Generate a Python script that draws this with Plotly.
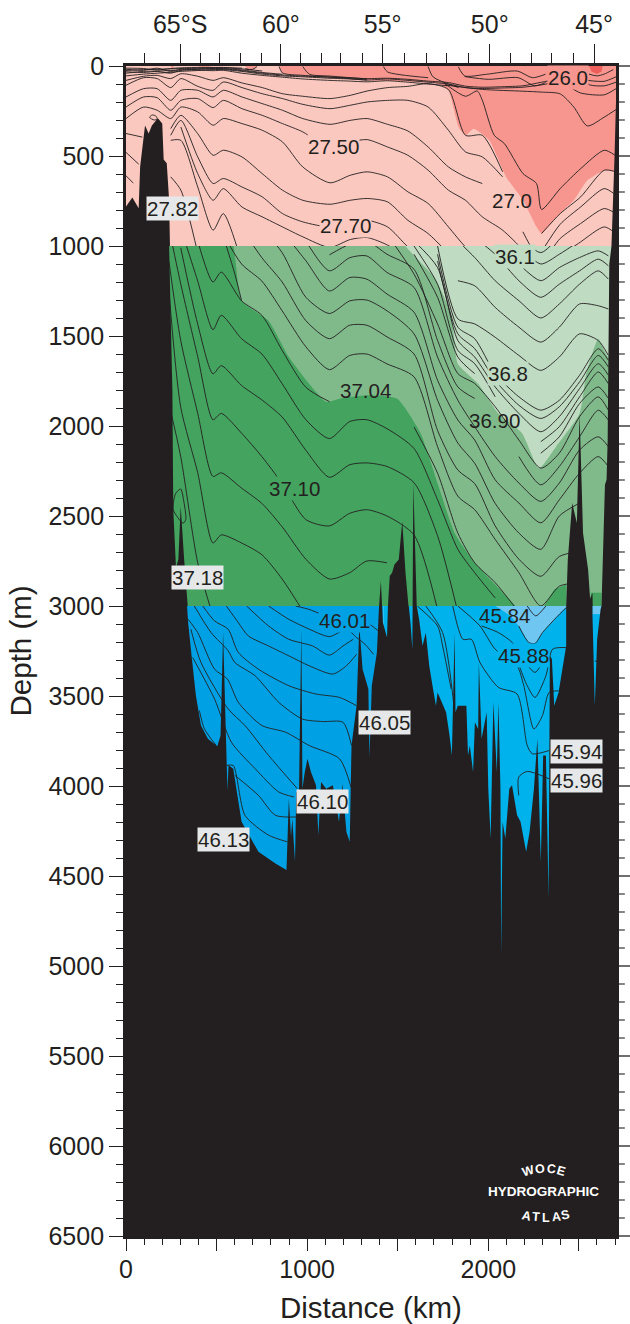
import plotly.graph_objects as go

N = None
INK = "#231f20"
FONT = "Liberation Sans"
CLEAR = "rgba(0,0,0,0)"

# ---------- axis values ----------
x_major = [0, 500, 1000, 1500, 2000, 2500]
x_major_text = ["0", "", "1000", "", "2000", ""]
lat_km = [299, 855, 1417, 2008, 2584]
lat_text = ["65°S", "60°", "55°", "50°", "45°"]
lat_minor_km = [103, 299, 410, 518, 630, 746, 855, 963, 1079, 1186, 1304, 1417, 1539, 1659,
                1771, 1893, 2008, 2122, 2238, 2350, 2468, 2584]
depth_ticks_top = [0, 500, 1000]
depth_ticks_mid = [1500, 2000, 2500]
depth_ticks_low = [3000, 3500, 4000, 4500, 5000, 5500, 6000, 6500]

# ---------- bathymetry (km, m) ----------
bathy_km = [0, 0, 35, 70, 78, 93, 105, 125, 143, 176, 200, 208, 225, 238, 238, 256, 261, 276, 289, 302, 321, 330, 336,
            343, 362, 386, 414, 452, 504, 522, 536, 550, 554, 560, 566, 592, 638, 731, 825, 886, 899, 911, 918, 933, 940,
            955, 968, 974, 987, 1002, 1021, 1049, 1062, 1077, 1105, 1142, 1176, 1194, 1217, 1235, 1245, 1273, 1288, 1306,
            1338, 1344, 1357, 1385, 1396, 1407, 1418, 1441, 1446, 1456, 1469, 1482, 1506, 1525, 1543, 1562, 1571, 1581,
            1586, 1599, 1605, 1618, 1637, 1655, 1674, 1692, 1711, 1720, 1767, 1786, 1799, 1814, 1819, 1832, 1879, 1888,
            1898, 1916, 1926, 1944, 1948, 1963, 1991, 2000, 2013, 2028, 2047, 2056, 2067, 2071, 2079,
            2094, 2116, 2131, 2159, 2178, 2209, 2228, 2252, 2271, 2280, 2290, 2303, 2318, 2333,
            2340, 2351, 2364, 2388, 2430, 2430, 2439, 2463, 2489, 2504, 2523, 2551,
            2562, 2575, 2575, 2588, 2601, 2620, 2625, 2644, 2653, 2659, 2663, 2668, 2680, 2697, 2705, 2705]
bathy_m = [6500, 780, 730, 790, 560, 430, 330, 375, 330, 290, 320, 520, 540, 745, 1000, 1800, 2465, 2788, 2742, 2447, 2742, 2889, 3000,
           3092, 3277, 3498, 3664, 3738, 3779, 3720, 3148, 3720, 3876, 4024, 3885, 3904, 4199, 4365, 4430, 4467, 4070, 4282, 4181, 4421, 4033,
           4033, 3129, 4015, 3922, 3849, 3922, 3996, 4273, 3978, 4015, 3996, 4199, 3987, 4255, 4310, 3775, 3554, 3111, 3351,
           3461, 3839, 3443, 3258, 3018, 2861, 3092, 3175, 3000, 2834, 2815, 2769, 2742, 2530, 2815, 3000, 3100, 3240,
           2317, 2815, 3000, 3074, 3221, 3148, 3332, 3443, 3554, 3480, 3590, 3720, 3830, 3148, 3590, 3554, 3554, 3830,
           3775, 3922, 3646, 3683, 3314, 3738, 3590, 4015, 4292, 3535, 3922, 3535, 4015, 4937, 4199,
           4291, 4015, 3996, 4163, 4199, 4365, 4255, 4015, 3738, 4052, 4421, 3830, 3830, 4624,
           3277, 3295, 3554, 3480, 3221, 3000, 2742, 2428, 2539, 1931, 2594, 2797,
           2960, 2926, 3046, 3554, 3185, 3018, 3000, 2327, 2299, 2078, 1600, 1100, 1000, 500, 200, 6500]

# ---------- water-mass zones (km, m) ----------
red_km = [845, 864, 976, 1350, 1724, 1780, 1836, 1874, 1920, 2005, 2098, 2192, 2266, 2294, 2378, 2472, 2547, 2640, 2705, 2760, 2760, 845]
red_m = [-20, 39, 52, 80, 98, 135, 339, 385, 348, 413, 616, 746, 893, 931, 838, 746, 635, 580, 588, 588, -20, -20]
red_small_km = [658, 670, 700, 724]
red_small_m = [0, 18, 20, 0]
red_small2_km = [245, 255, 265]
red_small2_m = [0, 16, 0]
red_small3_km = [395, 430, 480]
red_small3_m = [0, 10, 0]
red_core_km = [2556, 2570, 2600, 2625, 2631]
red_core_m = [0, 30, 45, 30, 0]
dark_green_km = [100, 564, 638, 787, 899, 1011, 1105, 1179, 1329, 1497, 1627, 1720, 1814, 1926, 2150, 2230, 100]
dark_green_m = [900, 900, 1304, 1415, 1617, 1765, 1866, 1848, 1829, 1848, 2041, 2318, 2594, 2760, 3000, 3100, 3100]
dark_green2_km = [2308, 2364, 2430, 2430]
dark_green2_m = [3000, 2908, 2880, 3000]
dark_green3_km = [2565, 2625, 2625, 2565]
dark_green3_m = [2926, 2926, 3000, 3000]
pale_green_km = [1500, 1543, 1702, 1795, 1832, 1944, 2056, 2187, 2280, 2374, 2504, 2541, 2607, 2663, 2750, 2750, 1500]
pale_green_m = [900, 1000, 1175, 1378, 1654, 1765, 1931, 2041, 2235, 2115, 1931, 1710, 1516, 1617, 1617, 900, 900]
pale_blue_km = [1960, 2038, 2122, 2168, 2224, 2258, 2299, 2374, 2430, 2500, 2500, 1960]
pale_blue_m = [2950, 3000, 3055, 3111, 3203, 3208, 3148, 3065, 3009, 2990, 2900, 2900]
pale_blue2_km = [2575, 2625, 2625, 2575]
pale_blue2_m = [3000, 3000, 3045, 3045]

# ---------- upper section contours, depth (m) at stations ----------
top_km = [0, 97, 172, 247, 303, 396, 481, 537, 640, 752, 864, 976, 1126, 1238, 1331, 1444, 1556, 1668, 1780, 1874,
          1967, 2079, 2191, 2294, 2397, 2510, 2640, 2705]
top_z = [80, 57, 52, 70, 43, 57, 80, 65, 94, 120, 154, 168, 181, 163, 139, 120, 113, 98, 131, 385, 385, 588, N, 931, 820, 727, 579, 588]
top_a = [107, 65, 70, 120, 70, 113, 135, 89, 120, 154, 181, 213, 237, 218, 200, 191, 191, 228, 357, 477, 505, 616, N, 1032, 879, 783, 681, 718]
top_b = [172, 126, 126, 191, 135, 135, 172, 135, 172, 209, 246, 292, 324, 302, 292, 324, 361, 450, 561, 616, 653, N, 921, 1079, 958, 875, 792, 820]
top_c = [228, 172, 176, 246, 191, 181, 231, 191, 237, 274, 320, 366, 459, 422, 409, 450, 496, 579, 690, 746, 838, 912, 1023, 1171, 1060, 977, 894, 931]
top_d = [292, 228, 246, 292, 228, 255, 329, 292, 320, 357, 422, 561, 649, 607, 588, 616, 699, 764, 894, 1005, 1079, N, N, N, N, N, N, N]
top_e = [N, N, N, 348, 274, 376, 496, 468, 505, 598, 690, 746, 768, 746, 736, 755, 857, 931, 1042, N, N, N, N, N, N, N, N, N]
top_f = [N, N, N, 385, 302, 505, 653, 625, 672, 727, 820, 866, 894, 866, 857, 894, 1005, 1097, N, N, N, N, N, N, N, N, N, N]
top_g = [N, N, N, N, 339, 598, 746, 681, 783, 838, 894, 949, 1008, 964, 953, 995, 1069, N, N, N, N, N, N, N, N, N, N, N]
top_h = [N, N, N, 413, 413, 672, 912, 820, 1097, N, N, N, N, N, N, N, N, N, N, N, N, N, N, N, N, N, N, N]
top_i = [N, N, N, 616, 690, 1040, N, N, N, N, N, N, N, N, N, N, N, N, N, N, N, N, N, N, N, N, N, N]
top_s1 = [55, 45, 40, 35, 30, 25, 20, 20, 30, 45, 55, 60, 68, 72, 78, 72, 80, 90, 100, 120, 125, 122, 118, 105, 90, 150, 160, 126]
top_s2 = [40, 30, 28, 25, 22, 18, 16, 16, 26, 40, 50, 56, 62, 66, 70, 68, 74, 84, 92, 112, 118, 115, 110, 90, 70, N, N, N]
top_s3 = [25, 20, 18, 16, 14, 12, 10, 10, 16, 28, N, N, N, N, N, N, N, N, N, N, N, N, N, N, N, N, N, N]
top_s4 = [18, 24, 12, 30, 18, 16, 14, 14, 22, 36, 46, N, N, N, N, N, N, N, N, N, N, N, N, N, N, N, N, N]
top_s5 = [32, 36, 30, 40, 24, 22, 26, 24, 40, 52, 62, 72, 80, 84, 88, 82, 90, 100, 110, N, N, N, N, N, N, N, N, N]
top_s6 = [12, 14, 22, 14, 10, 8, 8, 8, 12, N, N, N, N, N, N, N, N, N, N, N, N, N, N, N, N, N, N, N]

seg_km_1 = [1760, 1967, 2191, 2294, 2397, 2472, 2547, 2640, 2705]
seg_m_1 = [105, 130, 140, 145, 155, 228, 333, 284, 242]
seg_km_2 = [1761, 1874, 1939, 1967, 2033, 2089, 2192, 2266, 2294, 2397, 2510, 2640, 2700]
seg_m_2 = [98, 168, 139, 190, 385, 431, 598, 653, 797, 681, 570, 468, 496]
seg_km_3 = [1835, 1870, 1990, 2160, 2243, 2316]
seg_m_3 = [5, 55, 46, 28, 65, 46]
seg_km_4 = [1668, 1696, 1836]
seg_m_4 = [3, 61, 120]
seg_km_5 = [1421, 1444, 1668]
seg_m_5 = [3, 33, 65]
seg_km_6 = [845, 864, 976, 1126, 1331]
seg_m_6 = [3, 39, 52, 62, 78]
seg_km_7 = [976, 1013, 1126, 1331]
seg_m_7 = [3, 46, 56, 72]
seg_km_8 = [658, 696, 724]
seg_m_8 = [15, 20, 3]
seg_km_9 = [2547, 2640, 2705]
seg_m_9 = [80, 85, 60]
seg_km_10 = [2556, 2600, 2640, 2690]
seg_m_10 = [45, 55, 45, 20]
seg_km_11 = [2500, 2560, 2640, 2705]
seg_m_11 = [60, 105, 110, 90]
seg_km_12 = [0, 90]
seg_m_12 = [375, 395]
seg_km_13 = [0, 70]
seg_m_13 = [480, 545]
seg_km_14 = [0, 40]
seg_m_14 = [610, 650]
seg_km_15 = [130, 145, 165, 172, 155, 130]
seg_m_15 = [285, 272, 278, 295, 300, 285]
seg_km_16 = [1870, 2000, 2165, 2255, 2316]
seg_m_16 = [59, 74, 65, 110, 92]

top_rows = [top_z, top_a, top_b, top_c, top_d, top_e, top_f, top_g, top_h, top_i, top_s1, top_s2, top_s3, top_s4, top_s5, top_s6]
top_segments = [(seg_km_1, seg_m_1), (seg_km_2, seg_m_2), (seg_km_3, seg_m_3), (seg_km_4, seg_m_4), (seg_km_5, seg_m_5),
                (seg_km_6, seg_m_6), (seg_km_7, seg_m_7), (seg_km_8, seg_m_8), (seg_km_9, seg_m_9), (seg_km_10, seg_m_10),
                (seg_km_11, seg_m_11), (seg_km_12, seg_m_12), (seg_km_13, seg_m_13), (seg_km_14, seg_m_14), (seg_km_15, seg_m_15),
                (seg_km_16, seg_m_16)]

# ---------- middle section contours ----------
mid_km = [237, 302, 396, 480, 526, 638, 750, 862, 993, 1123, 1235, 1329, 1441, 1590, 1720, 1832, 1925, 2038, 2169, 2290, 2392, 2504, 2607, 2663]
mid_w7 = [1875, 2170, 2760, 3055, N, N, N, N, N, N, N, N, N, N, N, N, N, N, N, N, N, N, N, N]
mid_w6 = [1250, 1895, 2260, 2650, 2605, 2650, 2715, 2850, 3055, N, N, N, N, N, N, N, N, N, N, N, N, N, N, N]
mid_w5 = [1085, 1525, 1930, 2280, 2260, 2345, 2430, 2560, 2740, 2850, 2815, 2750, 2760, N, N, N, N, N, N, N, N, N, N, N]
mid_w4 = [900, 1210, 1615, 1965, 1930, 2040, 2170, 2320, 2520, 2555, 2485, 2465, 2500, 2605, 3020, N, N, N, N, N, N, N, N, N]
mid_w3 = [N, 1010, 1435, 1710, 1665, 1775, 1855, 1950, 2135, 2285, 2215, 2205, 2225, 2315, 2610, 3035, N, N, N, N, N, N, N, N]
mid_w2 = [N, 900, 1195, 1465, 1385, 1515, 1600, 1765, 1965, 2070, 1975, 1965, 2015, 2125, 2410, 2685, 2815, 2955, N, N, N, N, N, N]
mid_w1 = [N, N, 972, 1200, 1145, 1305, 1385, 1580, 1785, 1865, N, N, N, 2005, 2262, 2595, 2760, 2870, 3035, N, N, N, N, N]
mid_m1 = [N, N, N, N, 915, 1100, 1195, 1360, 1560, 1687, 1608, 1600, 1655, 1727, 2115, 2390, 2465, 2630, 2815, 3000, 2890, 2870, N, N]
mid_m2 = [N, N, N, N, N, 900, 1065, 1200, 1415, 1515, 1440, 1440, 1505, 1600, 2025, 2245, 2320, 2555, 2740, 2835, 2725, 2695, N, N]
mid_m3 = [N, N, N, N, N, N, 900, 1037, 1285, 1375, 1305, 1300, 1360, 1488, 1857, 2095, 2207, 2430, 2595, 2685, 2500, 2428, N, N]
mid_m4 = [N, N, N, N, N, N, N, 917, 1082, 1250, 1175, 1184, 1267, 1368, 1746, 1967, 2078, 2299, 2428, 2538, 2410, 2262, 2170, 2225]
mid_m5 = [N, N, N, N, N, N, N, N, 972, 1138, 1065, 1055, 1147, 1230, 1617, 1857, 2004, 2170, 2317, 2419, 2317, 2133, 2060, 2115]
mid_m6 = [N, N, N, N, N, N, N, N, N, 1049, 990, 972, 1046, 1129, 1525, 1783, 1847, N, 2170, 2327, 2225, 2060, 1912, 1967]
mid_t13 = [N, N, N, N, N, N, N, N, N, N, N, N, 935, 1156, 1433, 1709, 1764, 1893, 2078, 2234, 2151, 1948, 1838, 1912]
mid_t12 = [N, N, N, N, N, N, N, N, N, N, N, N, N, 1046, 1285, 1617, 1709, N, N, 2151, 2060, 1875, 1783, 1847]
mid_t11 = [N, N, N, N, N, N, N, N, N, N, N, N, N, 1000, 1212, 1580, 1654, 1838, N, 2087, 2004, 1838, 1700, 1765]
mid_t10 = [N, N, N, N, N, N, N, N, N, N, N, N, N, 972, 1120, 1525, 1617, 1783, 1930, 2032, 1948, 1792, 1654, 1718]
mid_t9 = [N, N, N, N, N, N, N, N, N, N, N, N, N, N, 1083, 1488, 1570, 1746, 1885, 1958, 1893, 1755, 1608, 1672]
mid_t8 = [N, N, N, N, N, N, N, N, N, N, N, N, N, N, 1046, 1451, 1515, 1709, 1838, 1912, 1857, 1718, 1571, 1635]
mid_t7 = [N, N, N, N, N, N, N, N, N, N, N, N, N, N, 1000, 1405, 1433, 1507, 1608, 1691, 1617, 1488, 1525, 1608]
mid_t6 = [N, N, N, N, N, N, N, N, N, N, N, N, N, N, N, 1193, 1221, 1341, 1451, 1534, 1451, 1322, 1332, 1350]
mid_t5 = [N, N, N, N, N, N, N, N, N, N, N, N, N, N, N, 972, 1064, 1193, 1304, 1400, 1322, 1212, 1138, 1184]
mid_t4 = [N, N, N, N, N, N, N, N, N, N, N, N, N, N, N, N, 953, 1046, 1193, 1285, 1212, 1138, 1073, 1110]
mid_t3 = [N, N, N, N, N, N, N, N, N, N, N, N, N, N, N, N, N, N, 1100, 1193, 1120, 1064, 1027, 1055]
mid_t2 = [N, N, N, N, N, N, N, N, N, N, N, N, N, N, N, N, N, N, 1000, 1100, 1046, 972, N, N]
mid_t1 = [N, N, N, N, N, N, N, N, N, N, N, N, N, N, N, N, N, N, 945, 1037, 945, N, N, N]
mid_rows = [mid_w7, mid_w6, mid_w5, mid_w4, mid_w3, mid_w2, mid_w1, mid_m1, mid_m2, mid_m3, mid_m4, mid_m5, mid_m6,
            mid_t13, mid_t12, mid_t11, mid_t10, mid_t9, mid_t8, mid_t7, mid_t6, mid_t5, mid_t4, mid_t3, mid_t2, mid_t1]
mseg_km_1 = [554, 601, 638]
mseg_m_1 = [1000, 1156, 1304]
mseg_km_2 = [261, 274, 302, 321, 330, 315, 261]
mseg_m_2 = [2465, 2375, 2350, 2430, 2520, 2540, 2465]
mid_segments = [(mseg_km_1, mseg_m_1), (mseg_km_2, mseg_m_2)]

# ---------- lower section contours ----------
low_km_a = [937, 1011, 1067, 1200, 1329, 1394]
low_m_a = [3000, 3019, 3040, 3060, 3092, 3139]
low_km_b = [787, 899, 993, 1123, 1217, 1273, 1319, 1366]
low_m_b = [3000, 3074, 3120, 3170, 3130, 3175, 3212, 3268]
low_km_c = [666, 787, 899, 1030, 1123, 1198, 1254]
low_m_c = [3000, 3111, 3185, 3222, 3273, 3222, 3185]
low_km_d = [554, 620, 675, 787, 899, 1011, 1142, 1217, 1273]
low_m_d = [3000, 3092, 3166, 3222, 3277, 3332, 3378, 3332, 3268]
low_km_e = [424, 489, 564, 620, 731, 899, 1049, 1179, 1273]
low_m_e = [3000, 3083, 3129, 3258, 3351, 3443, 3489, 3508, 3554]
low_km_f = [377, 470, 564, 601, 713, 843, 974, 1086, 1198, 1245]
low_m_f = [3000, 3148, 3249, 3314, 3388, 3535, 3628, 3642, 3646, 3775]
low_km_g = [343, 396, 489, 560, 620, 750, 881, 1011, 1179, 1245]
low_m_g = [3074, 3148, 3351, 3406, 3535, 3664, 3701, 3775, 3849, 4015]
low_km_h = [358, 414, 564, 657, 787, 946]
low_m_h = [3129, 3314, 3572, 3664, 3830, 4015]
low_km_i = [368, 489, 582, 713, 843, 927]
low_m_i = [3286, 3517, 3757, 3904, 4033, 4061]
low_km_j = [405, 433, 498]
low_m_j = [3581, 3683, 3775]
low_km_k = [601, 731, 825, 946]
low_m_k = [3941, 4052, 4163, 4172]
low_km_l = [554, 592, 657, 787, 890]
low_m_l = [3886, 3886, 4163, 4273, 4310]
low_km_r1 = [1804, 1860, 1907, 1954, 2056, 2159, 2215, 2243, 2336]
low_m_r1 = [3000, 3185, 3185, 3314, 3452, 3489, 3775, 3821, 3803]
low_km_r2 = [2168, 2168, 2215, 2336]
low_m_r2 = [4052, 3950, 3919, 3960]
low_km_r3 = [1608, 1720, 1748, 1795]
low_m_r3 = [3000, 3111, 3222, 3461]
low_km_r4 = [1655, 1748, 1814]
low_m_r4 = [3000, 3148, 3590]
low_km_r5 = [1832, 1954, 2038, 2159, 2196, 2252, 2299, 2336, 2388]
low_m_r5 = [3000, 3111, 3240, 3332, 3443, 3683, 3609, 3480, 3471]
low_km_r6 = [1963, 2056, 2140, 2168, 2215, 2258, 2318, 2355, 2430]
low_m_r6 = [3111, 3148, 3212, 3323, 3443, 3508, 3388, 3240, 3231]
low_km_r7 = [2196, 2258, 2299]
low_m_r7 = [3305, 3369, 3314]
low_km_r8 = [2215, 2262, 2318]
low_m_r8 = [3000, 3055, 3000]
low_km_r9 = [2588, 2607]
low_m_r9 = [3305, 3310]
low_km_r10 = [2168, 2224, 2258, 2299, 2374, 2430]
low_m_r10 = [3111, 3203, 3208, 3148, 3065, 3009]
low_segments = [(low_km_a, low_m_a), (low_km_b, low_m_b), (low_km_c, low_m_c), (low_km_d, low_m_d), (low_km_e, low_m_e),
                (low_km_f, low_m_f), (low_km_g, low_m_g), (low_km_h, low_m_h), (low_km_i, low_m_i), (low_km_j, low_m_j),
                (low_km_k, low_m_k), (low_km_l, low_m_l), (low_km_r1, low_m_r1), (low_km_r2, low_m_r2), (low_km_r3, low_m_r3),
                (low_km_r4, low_m_r4), (low_km_r5, low_m_r5), (low_km_r6, low_m_r6), (low_km_r10, low_m_r10),
                (low_km_r7, low_m_r7), (low_km_r8, low_m_r8), (low_km_r9, low_m_r9)]

# ---------- contour labels ----------
label_text = ["26.0", "27.50", "27.82", "27.0", "27.70", "36.1", "36.8", "36.90", "37.04", "37.10", "37.18",
              "45.84", "46.01", "45.88", "46.05", "45.94", "45.96", "46.10", "46.13"]
label_km = [2442, 1144, 254, 2133, 1210, 2149, 2110, 2033, 1320, 928, 392, 2088, 1204, 2193, 1425, 2486, 2486, 1083, 536]
label_m = [66, 449, 792, 748, 886, 1058, 1706, 1967, 1800, 2349, 2842, 3052, 3080, 3274, 3645, 3811, 3967, 4088, 4299]
label_axis = ["y", "y", "y", "y", "y", "y2", "y2", "y2", "y2", "y2", "y2", "y3", "y3", "y3", "y3", "y3", "y3", "y3", "y3"]
label_bg = ["#f6968e", "#fbc8bf", "#e6e7e8", CLEAR, "#fbc8bf", "#bfdbc1", "#bfdbc1", CLEAR, CLEAR, "#43a35f",
            "#e6e7e8", CLEAR, "#00a1e4", "#00b2ec", "#e6e7e8", "#e6e7e8", "#e6e7e8", "#e6e7e8", "#e6e7e8"]

atlas_char = ["W", "O", "C", "E", "A", "T", "L", "A", "S"]
atlas_km = [2221, 2287, 2348, 2403, 2210, 2265, 2320, 2376, 2425]
atlas_m = [6138, 6127, 6127, 6138, 6388, 6395, 6400, 6395, 6383]
atlas_angle = [-16, -6, 6, 16, 12, 5, 0, -5, -12]

# ---------- figure ----------
fig = go.Figure()


def zone(xs, ys, color, yaxis, smooth=False):
    line = dict(width=0, shape="spline", smoothing=0.5) if smooth else dict(width=0)
    fig.add_trace(go.Scatter(x=xs, y=ys, yaxis=yaxis, mode="lines", fill="toself", fillcolor=color,
                             line=line, hoverinfo="skip", showlegend=False))


def contour(xs, ys, yaxis):
    fig.add_trace(go.Scatter(x=xs, y=ys, yaxis=yaxis, mode="lines",
                             line=dict(color=INK, width=0.9, shape="spline", smoothing=0.7),
                             hoverinfo="skip", showlegend=False))


# upper section
zone([0, 2705, 2705, 0], [0, 0, 1000, 1000], "#fbc8bf", "y")
zone(red_km, red_m, "#f6968e", "y", True)
zone(red_small_km, red_small_m, "#f6968e", "y")
zone(red_small2_km, red_small2_m, "#f6968e", "y")
zone(red_small3_km, red_small3_m, "#f6968e", "y")
zone(red_core_km, red_core_m, "#ee5f5b", "y")
# middle section
zone([0, 2705, 2705, 0], [1000, 1000, 3000, 3000], "#80ba8b", "y2")
zone(dark_green_km, dark_green_m, "#43a35f", "y2", True)
zone(dark_green2_km, dark_green2_m, "#43a35f", "y2")
zone(dark_green3_km, dark_green3_m, "#43a35f", "y2")
zone(pale_green_km, pale_green_m, "#bfdbc1", "y2", True)
# lower section
zone([0, 1420, 1420, 0], [3000, 3000, 6500, 6500], "#00a1e4", "y3")
zone([1420, 2705, 2705, 1420], [3000, 3000, 6500, 6500], "#00b2ec", "y3")
zone(pale_blue_km, pale_blue_m, "#6ec6f1", "y3", True)
zone(pale_blue2_km, pale_blue2_m, "#6ec6f1", "y3")

for row in top_rows:
    contour(top_km, row, "y")
for xs, ys in top_segments:
    contour(xs, ys, "y")
for row in mid_rows:
    contour(mid_km, row, "y2")
for xs, ys in mid_segments:
    contour(xs, ys, "y2")
for xs, ys in low_segments:
    contour(xs, ys, "y3")

for axis in ["y", "y2", "y3"]:
    zone(bathy_km, bathy_m, INK, axis)

# invisible anchor that makes the latitude axis appear
fig.add_trace(go.Scatter(x=[1000], y=[500], xaxis="x2", yaxis="y", mode="markers", marker=dict(opacity=0),
                         hoverinfo="skip", showlegend=False))

tick_font = dict(family=FONT, size=25, color=INK)
FRAME = 2.8


def y_axis(lo, hi, ticks, domain):
    return dict(range=[hi, lo], domain=domain, anchor="x", tickmode="array", tickvals=ticks, automargin=False,
                ticks="outside", ticklen=14, tickwidth=1.3, tickcolor=INK, tickfont=tick_font,
                ticklabelstandoff=0, showline=True, linecolor=INK, linewidth=FRAME, mirror=True,
                showgrid=False, zeroline=False,
                minor=dict(dtick=100, tick0=0, ticks="outside", ticklen=7, tickwidth=1.1, tickcolor=INK, showgrid=False))


dom_top = [1 - 1000 / 6500, 1]
dom_mid = [1 - 3000 / 6500, 1 - 1000 / 6500]
dom_low = [0, 1 - 3000 / 6500]

fig.update_layout(
    width=630, height=1324, autosize=False,
    margin=dict(l=126, r=14.3, t=66, b=88, pad=0),
    paper_bgcolor="white", plot_bgcolor="white", showlegend=False, hovermode=False,
    font=dict(family=FONT, color=INK),
    xaxis=dict(range=[0, 2705], domain=[0, 1], anchor="y3", side="bottom", tickmode="array", tickvals=x_major, automargin=False,
               ticktext=x_major_text, ticks="outside", ticklen=12, tickwidth=1.3, tickcolor=INK, tickfont=tick_font,
               ticklabelstandoff=-3, showline=True, linecolor=INK, linewidth=FRAME, showgrid=False, zeroline=False,
               minor=dict(dtick=100, tick0=0, ticks="outside", ticklen=6, tickwidth=1.1, tickcolor=INK, showgrid=False)),
    xaxis2=dict(range=[0, 2705], domain=[0, 1], anchor="y", overlaying="x", side="top", tickmode="array", tickvals=lat_km, automargin=False,
                ticktext=lat_text, ticks="outside", ticklen=19, tickwidth=1.3, tickcolor=INK, tickfont=tick_font,
                ticklabelstandoff=1, showline=True, linecolor=INK, linewidth=FRAME, showgrid=False, zeroline=False,
                minor=dict(tickmode="array", tickvals=lat_minor_km, ticks="outside", ticklen=10, tickwidth=1.1,
                           tickcolor=INK, showgrid=False)),
    yaxis=y_axis(0, 1000, depth_ticks_top, dom_top),
    yaxis2=y_axis(1000, 3000, depth_ticks_mid, dom_mid),
    yaxis3=y_axis(3000, 6500, depth_ticks_low, dom_low),
)

# right-hand depth ticks, mirroring the left-hand ones outside the plot frame
for d in range(0, 6501, 100):
    major = d % 500 == 0
    level = 1 - d / 6500
    fig.add_shape(type="line", xref="paper", yref="paper", x0=1.004, x1=1.032 if major else 1.018, y0=level, y1=level,
                  line=dict(color=INK, width=1.3 if major else 1.1), layer="above")

for t, k, m, a, bg in zip(label_text, label_km, label_m, label_axis, label_bg):
    fig.add_annotation(text=t, x=k, y=m, xref="x", yref=a, showarrow=False, bgcolor=bg, borderpad=0,
                       font=dict(family=FONT, size=20.5, color=INK))

for ch, k, m, ang in zip(atlas_char, atlas_km, atlas_m, atlas_angle):
    fig.add_annotation(text=ch, x=k, y=m, xref="x", yref="y3", showarrow=False, textangle=ang,
                       font=dict(family=FONT, size=12.5, color="white", weight="bold"))
fig.add_annotation(text="HYDROGRAPHIC", x=2304, y=6255, xref="x", yref="y3", showarrow=False,
                   font=dict(family=FONT, size=13.5, color="white", weight="bold"))

fig.add_annotation(text="Depth (m)", x=-0.2144, y=0.5004, xref="paper", yref="paper", showarrow=False, textangle=-90,
                   xanchor="center", yanchor="middle", font=dict(family=FONT, size=29.5, color=INK))
fig.add_annotation(text="Distance (km)", x=0.5003, y=-0.0615, xref="paper", yref="paper", showarrow=False,
                   xanchor="center", yanchor="middle", font=dict(family=FONT, size=29.5, color=INK))

fig.write_html("out.html", config={"displayModeBar": False}, post_script="document.body.style.margin='0';")
